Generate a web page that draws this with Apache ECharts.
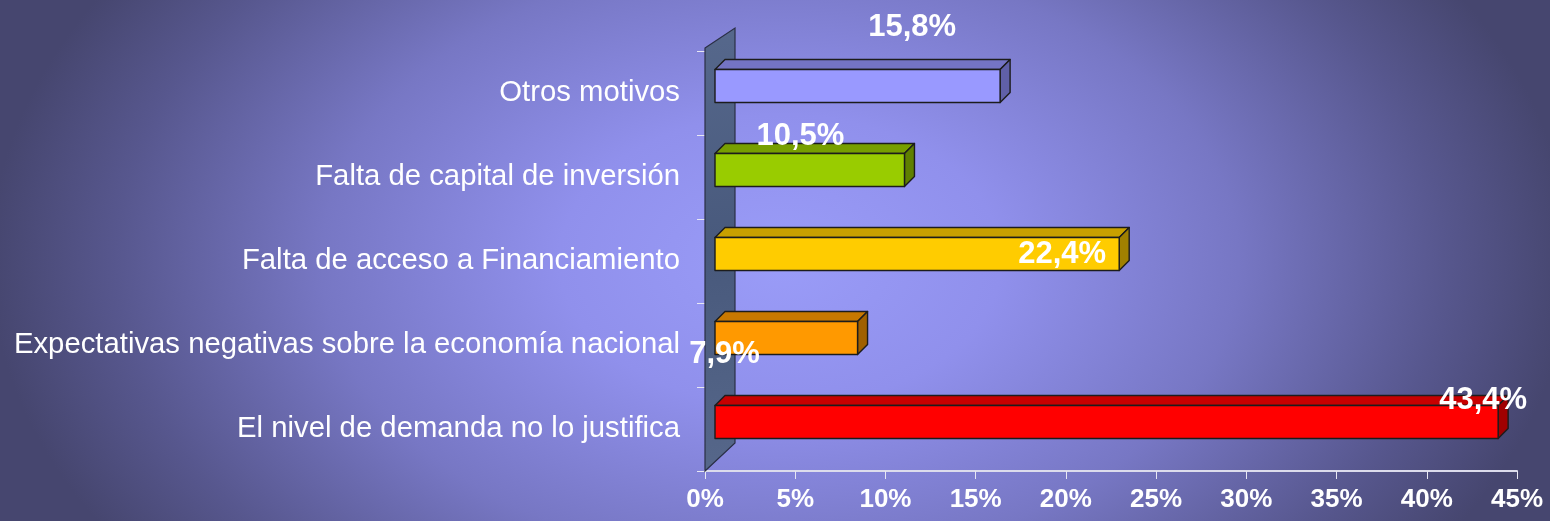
<!DOCTYPE html>
<html>
<head>
<meta charset="utf-8">
<title>Motivos</title>
<script src="https://cdn.jsdelivr.net/npm/echarts@6/dist/echarts.min.js"></script>
<style>
  html, body { margin: 0; padding: 0; }
  body {
    width: 1550px; height: 521px; overflow: hidden;
    background: radial-gradient(ellipse 790px 520px at 780px 260px,
      #9a9cf8 0%, #9090ec 28%, #7777c4 58%, #57578e 84%, #46466f 100%);
  }
  #chart { width: 1550px; height: 521px; }
</style>
</head>
<body>
<div id="chart"></div>
<script>
// categories, bottom to top (category axis draws the first one at the bottom)
var categories = [
  "El nivel de demanda no lo justifica",
  "Expectativas negativas sobre la economía nacional",
  "Falta de acceso a Financiamiento",
  "Falta de capital de inversión",
  "Otros motivos"
];
var values = [43.4, 7.9, 22.4, 10.5, 15.8];
var valueLabels = ["43,4%", "7,9%", "22,4%", "10,5%", "15,8%"];

// colours per bar: front, top, side
var frontColors = ["#ff0000", "#ff9900", "#ffcc00", "#99cc00", "#9999ff"];
var topColors   = ["#c80000", "#c87800", "#c8a000", "#779f00", "#7474c4"];
var sideColors  = ["#a00000", "#a06000", "#a08000", "#5f8000", "#6060a8"];
// where each value label sits, relative to the bar's front right end
var labelOffsets = [[-15, -22], [-133, 16], [-57, 0], [-104, -34], [-88, -59]];

var GRID_LEFT = 705, GRID_TOP = 51, GRID_RIGHT = 33, GRID_BOTTOM = 50;
var DX = 10, DY = -7;        // shift of the front face
var DEPTH_X = 10, DEPTH_Y = -10;
var BAR_H = 33;

var myChart = echarts.init(document.getElementById('chart'));

function renderBar(params, api) {
  var i = params.dataIndex;
  var v = api.value(0), c = api.value(1);
  var p0 = api.coord([0, c]);
  var p1 = api.coord([v, c]);
  var x0 = p0[0] + DX, x1 = p1[0] + DX;
  var cy = p0[1] + DY;
  var top = cy - BAR_H / 2, bot = cy + BAR_H / 2;
  var stroke = { stroke: '#1c1c1c', lineWidth: 1.4, lineJoin: 'round' };
  var off = labelOffsets[i];
  return {
    type: 'group',
    children: [
      {
        type: 'polygon',
        shape: { points: [[x0, top], [x1, top], [x1 + DEPTH_X, top + DEPTH_Y], [x0 + DEPTH_X, top + DEPTH_Y]] },
        style: Object.assign({ fill: topColors[i] }, stroke)
      },
      {
        type: 'polygon',
        shape: { points: [[x1, top], [x1 + DEPTH_X, top + DEPTH_Y], [x1 + DEPTH_X, bot + DEPTH_Y], [x1, bot]] },
        style: Object.assign({ fill: sideColors[i] }, stroke)
      },
      {
        type: 'rect',
        shape: { x: x0, y: top, width: x1 - x0, height: BAR_H },
        style: Object.assign({ fill: frontColors[i] }, stroke)
      },
      {
        type: 'text',
        x: x1 + off[0], y: cy + off[1],
        style: {
          text: valueLabels[i],
          fill: '#ffffff',
          font: 'bold 31px "Liberation Sans", Arial, sans-serif',
          align: 'center', verticalAlign: 'middle'
        }
      }
    ]
  };
}

var barData = [];
for (var i = 0; i < values.length; i++) {
  barData.push([values[i], i]);
}

var H = 521;
var gridBottomY = H - GRID_BOTTOM;

var option = {
  backgroundColor: 'transparent',
  animation: false,
  grid: { left: GRID_LEFT, right: GRID_RIGHT, top: GRID_TOP, bottom: GRID_BOTTOM },
  xAxis: {
    type: 'value',
    min: 0, max: 45, interval: 5,
    axisLine: { show: true, lineStyle: { color: '#dcdcec', width: 2 } },
    axisTick: { show: true, length: 8, lineStyle: { color: '#e8e8f4', width: 1 } },
    splitLine: { show: false },
    axisLabel: {
      formatter: '{value}%',
      color: '#ffffff',
      fontFamily: '"Liberation Sans", Arial, sans-serif',
      fontWeight: 'bold',
      fontSize: 26,
      margin: 16
    }
  },
  yAxis: {
    type: 'category',
    data: categories,
    axisLine: { show: false },
    axisTick: { show: true, length: 8, lineStyle: { color: '#e8e8f4' } },
    axisLabel: {
      color: '#ffffff',
      fontFamily: '"Liberation Sans", Arial, sans-serif',
      fontSize: 29.3,
      margin: 25,
      padding: [6, 0, 0, 0]
    }
  },
  graphic: [
    {
      // the 3D wall on the left
      type: 'polygon',
      z: 1,
      shape: { points: [[GRID_LEFT, GRID_TOP - 3], [GRID_LEFT + 30, GRID_TOP - 23],
                        [GRID_LEFT + 30, gridBottomY - 28], [GRID_LEFT, gridBottomY]] },
      style: {
        fill: new echarts.graphic.LinearGradient(0, 0, 1, 1, [
          { offset: 0, color: '#56688c' },
          { offset: 0.5, color: '#48597c' },
          { offset: 1, color: '#56678a' }
        ]),
        stroke: '#2a2f45', lineWidth: 1.2
      }
    }
  ],
  series: [{
    type: 'custom',
    renderItem: renderBar,
    encode: { x: 0, y: 1 },
    data: barData,
    z: 5
  }]
};

myChart.setOption(option);
</script>
</body>
</html>
